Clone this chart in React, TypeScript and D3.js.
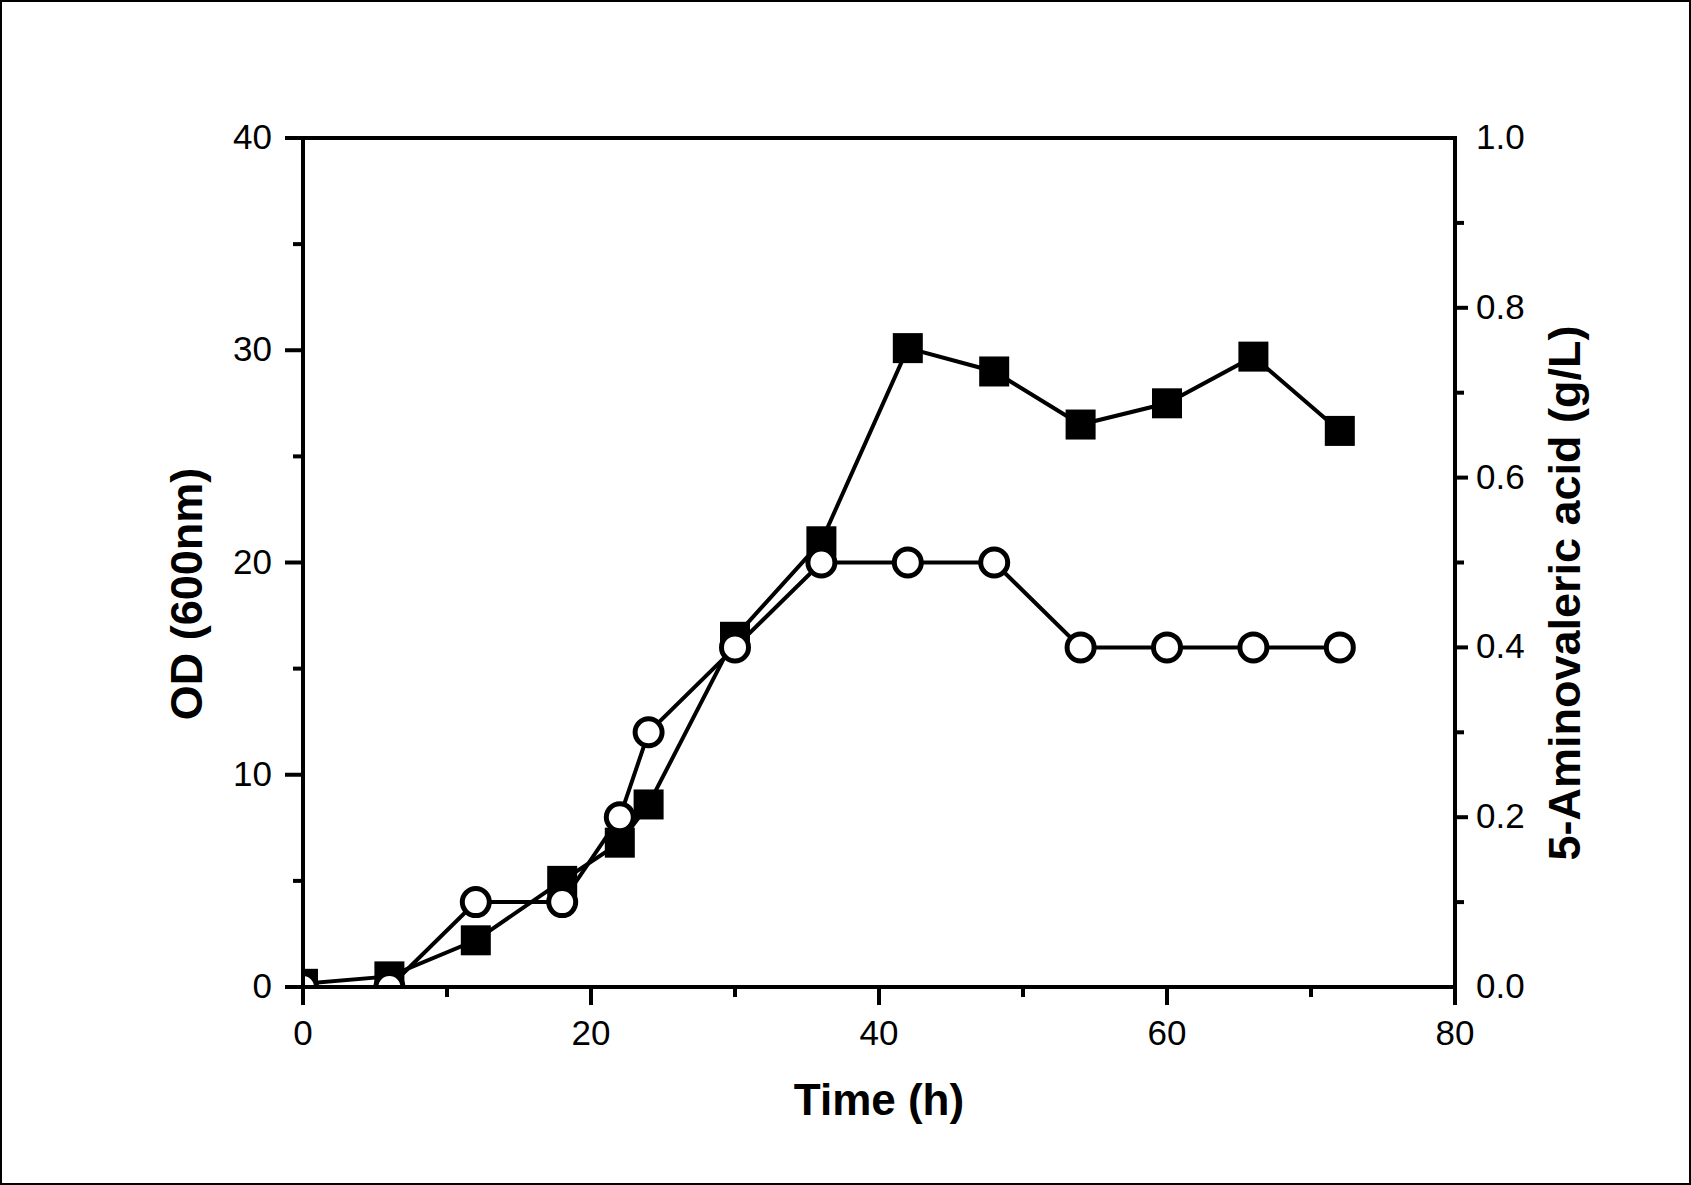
import React from "react";
import * as d3 from "d3";

const timeH = [0, 6, 12, 18, 22, 24, 30, 36, 42, 48, 54, 60, 66, 72];
const odValues = [0.15, 0.5, 2.2, 5.0, 6.8, 8.6, 16.5, 21.0, 30.1, 29.0, 26.5, 27.5, 29.7, 26.2];
const avaValues = [0, 0, 0.1, 0.1, 0.2, 0.3, 0.4, 0.5, 0.5, 0.5, 0.4, 0.4, 0.4, 0.4];

const xMajor = [0, 20, 40, 60, 80];
const xMinor = [10, 30, 50, 70];
const yLeftMajor = [0, 10, 20, 30, 40];
const yLeftMinor = [5, 15, 25, 35];
const yRightMajor = [0, 0.2, 0.4, 0.6, 0.8, 1.0];
const yRightMinor = [0.1, 0.3, 0.5, 0.7, 0.9];

const W = 1691;
const H = 1185;
const L = 303, R = 1455, T = 138, B = 987;
const FONT = "'Liberation Sans', Arial, sans-serif";

export default function App() {
  const x = d3.scaleLinear().domain([0, 80]).range([L, R]);
  const yL = d3.scaleLinear().domain([0, 40]).range([B, T]);
  const yR = d3.scaleLinear().domain([0, 1]).range([B, T]);

  const odData = timeH.map((t, i) => [t, odValues[i]] as [number, number]);
  const avaData = timeH.map((t, i) => [t, avaValues[i]] as [number, number]);

  const lineL = d3.line<[number, number]>().x(d => x(d[0])).y(d => yL(d[1]));
  const lineR = d3.line<[number, number]>().x(d => x(d[0])).y(d => yR(d[1]));

  const sq = 30;
  const sw = 4;

  return (
    <svg width={W} height={H} style={{ position: "absolute", left: 0, top: 0, background: "#fff" }}
      fontFamily={FONT}>
      <rect x={0} y={0} width={W} height={H} fill="#fff" />
      <rect x={1} y={1} width={W - 2} height={H - 2} fill="none" stroke="#000" strokeWidth={2} />
      <defs>
        <clipPath id="plotclip">
          <rect x={L} y={T} width={R - L} height={B - T} />
        </clipPath>
      </defs>

      {/* data */}
      <g clipPath="url(#plotclip)">
        <path d={lineL(odData) || ""} fill="none" stroke="#000" strokeWidth={sw} />
        {odData.map((d, i) => (
          <rect key={"s" + i} x={x(d[0]) - sq / 2} y={yL(d[1]) - sq / 2} width={sq} height={sq} fill="#000" />
        ))}
        <path d={lineR(avaData) || ""} fill="none" stroke="#000" strokeWidth={sw} />
        {avaData.map((d, i) => (
          <circle key={"c" + i} cx={x(d[0])} cy={yR(d[1])} r={13.5} fill="#fff" stroke="#000" strokeWidth={5} />
        ))}
      </g>

      {/* frame */}
      <rect x={L} y={T} width={R - L} height={B - T} fill="none" stroke="#000" strokeWidth={sw} />

      {/* bottom axis */}
      {xMajor.map(v => (
        <g key={"xm" + v}>
          <line x1={x(v)} x2={x(v)} y1={B} y2={B + 18} stroke="#000" strokeWidth={sw} />
          <text x={x(v)} y={1045} fontSize={35} textAnchor="middle" fill="#000">{v}</text>
        </g>
      ))}
      {xMinor.map(v => (
        <line key={"xn" + v} x1={x(v)} x2={x(v)} y1={B} y2={B + 10} stroke="#000" strokeWidth={sw} />
      ))}

      {/* left axis */}
      {yLeftMajor.map(v => (
        <g key={"lm" + v}>
          <line x1={L - 18} x2={L} y1={yL(v)} y2={yL(v)} stroke="#000" strokeWidth={sw} />
          <text x={272} y={yL(v) + 11} fontSize={35} textAnchor="end" fill="#000">{v}</text>
        </g>
      ))}
      {yLeftMinor.map(v => (
        <line key={"ln" + v} x1={L - 10} x2={L} y1={yL(v)} y2={yL(v)} stroke="#000" strokeWidth={sw} />
      ))}

      {/* right axis */}
      {yRightMajor.map(v => (
        <g key={"rm" + v}>
          {v > 0 && v < 1 && (
            <line x1={R} x2={R + 13} y1={yR(v)} y2={yR(v)} stroke="#000" strokeWidth={sw} />
          )}
          <text x={1476} y={yR(v) + 11} fontSize={35} textAnchor="start" fill="#000">{d3.format(".1f")(v)}</text>
        </g>
      ))}
      {yRightMinor.map(v => (
        <line key={"rn" + v} x1={R} x2={R + 9} y1={yR(v)} y2={yR(v)} stroke="#000" strokeWidth={sw} />
      ))}

      {/* titles */}
      <text x={879} y={1115} fontSize={44} fontWeight="bold" textAnchor="middle" fill="#000">Time (h)</text>
      <text transform="translate(202,594) rotate(-90)" fontSize={45} fontWeight="bold" textAnchor="middle" fill="#000">OD (600nm)</text>
      <text transform="translate(1580,593) rotate(-90)" fontSize={45} fontWeight="bold" textAnchor="middle" fill="#000">5-Aminovaleric acid (g/L)</text>
    </svg>
  );
}
